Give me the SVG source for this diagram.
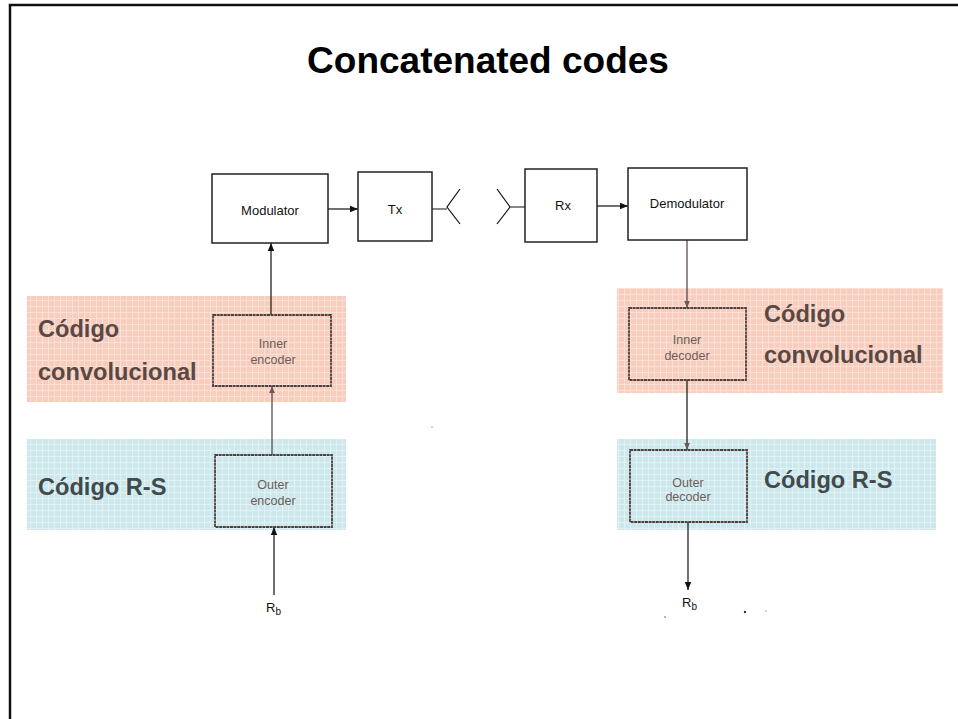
<svg xmlns="http://www.w3.org/2000/svg" width="958" height="719" viewBox="0 0 958 719">
  <defs>
    <pattern id="gridPink" width="6" height="6" patternUnits="userSpaceOnUse">
      <rect width="6" height="6" fill="#f9cdbd"/>
      <path d="M0 0.5H6M0.5 0V6" stroke="#fbe0d5" stroke-width="1"/>
    </pattern>
    <pattern id="gridBlue" width="6" height="6" patternUnits="userSpaceOnUse">
      <rect width="6" height="6" fill="#cde8ec"/>
      <path d="M0 0.5H6M0.5 0V6" stroke="#e2f2f4" stroke-width="1"/>
    </pattern>
    <marker id="arrow" viewBox="0 0 10 10" refX="10" refY="5" markerWidth="10" markerHeight="8" markerUnits="userSpaceOnUse" orient="auto">
      <path d="M0 1L10 5L0 9Z" fill="#111"/>
    </marker>
    <marker id="arrowTint" viewBox="0 0 10 10" refX="10" refY="5" markerWidth="9" markerHeight="7" markerUnits="userSpaceOnUse" orient="auto">
      <path d="M0 1L10 5L0 9Z" fill="#6a5a55"/>
    </marker>
  </defs>
  <style>
    .frame { fill: none; stroke: #111; stroke-width: 2.5; }
    .title { font-family: "Liberation Sans", Arial, sans-serif; font-weight: bold; font-size: 37px; fill: #000; text-anchor: middle; }
    .box { fill: #fff; stroke: #222; stroke-width: 1.5; }
    .tbox { fill: none; stroke: #4e403c; stroke-width: 1.8; stroke-dasharray: 3 0.6; }
    .lbl { font-family: "Liberation Sans", Arial, sans-serif; font-size: 13px; fill: #111; text-anchor: middle; }
    .tlbl { font-family: "Liberation Sans", Arial, sans-serif; font-size: 12.5px; fill: #6b5d5a; text-anchor: middle; }
    .band { font-family: "Liberation Sans", Arial, sans-serif; font-weight: bold; font-size: 23.6px; }
    .pinkTxt { fill: #5a4845; }
    .blueTxt { fill: #414a4c; }
    .wire { fill: none; stroke: #111; stroke-width: 1.2; }
    .twire { fill: none; stroke: #4e403c; stroke-width: 1.2; }
    .sub { font-family: "Liberation Sans", Arial, sans-serif; fill: #111; }
  </style>

  <!-- page frame -->
  <path class="frame" d="M10 719V5H958"/>

  <text class="title" x="488" y="73">Concatenated codes</text>

  <!-- coloured bands -->
  <g id="bands">
    <rect x="27" y="296" width="319" height="106" fill="url(#gridPink)"/>
    <rect x="27" y="439" width="319" height="91" fill="url(#gridBlue)"/>
    <rect x="617" y="288" width="326" height="105" fill="url(#gridPink)"/>
    <rect x="617" y="439" width="319" height="91" fill="url(#gridBlue)"/>
    <text class="band pinkTxt" x="38" y="337">Código</text>
    <text class="band pinkTxt" x="38" y="380">convolucional</text>
    <text class="band blueTxt" x="38" y="495">Código R-S</text>
    <text class="band pinkTxt" x="764" y="322">Código</text>
    <text class="band pinkTxt" x="764" y="363">convolucional</text>
    <text class="band blueTxt" x="764" y="488">Código R-S</text>
  </g>

  <!-- connectors -->
  <g id="connectors">
    <line class="wire" x1="328" y1="209" x2="358" y2="209" marker-end="url(#arrow)"/>
    <line class="wire" x1="597" y1="206" x2="628" y2="206" marker-end="url(#arrow)"/>
    <!-- transmit antenna -->
    <path class="wire" d="M432 209H447M460 189L447 207L460 224"/>
    <!-- receive antenna -->
    <path class="wire" d="M525 207H510M497 189L510 207L497 224"/>
    <!-- encoder chain -->
    <line class="wire" x1="271" y1="315" x2="271" y2="243" marker-end="url(#arrow)"/>
    <line class="twire" x1="272" y1="455" x2="272" y2="386" marker-end="url(#arrowTint)"/>
    <line class="wire" x1="274" y1="595" x2="274" y2="527" marker-end="url(#arrow)"/>
    <!-- decoder chain -->
    <line class="twire" x1="687" y1="240" x2="687" y2="308" marker-end="url(#arrowTint)"/>
    <line class="wire" x1="687" y1="380" x2="687" y2="450" marker-end="url(#arrowTint)"/>
    <line class="wire" x1="688" y1="522" x2="688" y2="590" marker-end="url(#arrow)"/>
  </g>

  <g id="modulator">
    <rect class="box" x="212" y="174" width="116" height="69"/>
    <text class="lbl" x="270" y="215">Modulator</text>
  </g>
  <g id="tx">
    <rect class="box" x="358" y="172" width="74" height="69"/>
    <text class="lbl" x="395" y="214">Tx</text>
  </g>
  <g id="rx">
    <rect class="box" x="525" y="169" width="72" height="73"/>
    <text class="lbl" x="563" y="210">Rx</text>
  </g>
  <g id="demodulator">
    <rect class="box" x="628" y="168" width="119" height="72"/>
    <text class="lbl" x="687" y="208">Demodulator</text>
  </g>
  <g id="inner-encoder">
    <rect class="tbox" x="213" y="315" width="118" height="71"/>
    <text class="tlbl" x="273" y="348">Inner</text>
    <text class="tlbl" x="273" y="364">encoder</text>
  </g>
  <g id="outer-encoder">
    <rect class="tbox" x="215" y="455" width="117" height="72"/>
    <text class="tlbl" x="273" y="489">Outer</text>
    <text class="tlbl" x="273" y="505">encoder</text>
  </g>
  <g id="inner-decoder">
    <rect class="tbox" x="629" y="308" width="117" height="72"/>
    <text class="tlbl" x="687" y="344">Inner</text>
    <text class="tlbl" x="687" y="360">decoder</text>
  </g>
  <g id="outer-decoder">
    <rect class="tbox" x="630" y="450" width="117" height="72"/>
    <text class="tlbl" x="688" y="487">Outer</text>
    <text class="tlbl" x="688" y="501">decoder</text>
  </g>

  <!-- bit-rate labels -->
  <g id="rb-in">
    <text class="sub" x="266" y="612" font-size="13">R<tspan font-size="10" dy="3">b</tspan></text>
  </g>
  <g id="rb-out">
    <text class="sub" x="682" y="607" font-size="13">R<tspan font-size="10" dy="3">b</tspan></text>
  </g>

  <!-- specks -->
  <g fill="#333">
    <circle cx="745" cy="612" r="1.2"/>
    <circle cx="665" cy="617" r="0.7"/>
    <circle cx="766" cy="611" r="0.6"/>
    <circle cx="432" cy="427" r="0.6"/>
  </g>
</svg>
